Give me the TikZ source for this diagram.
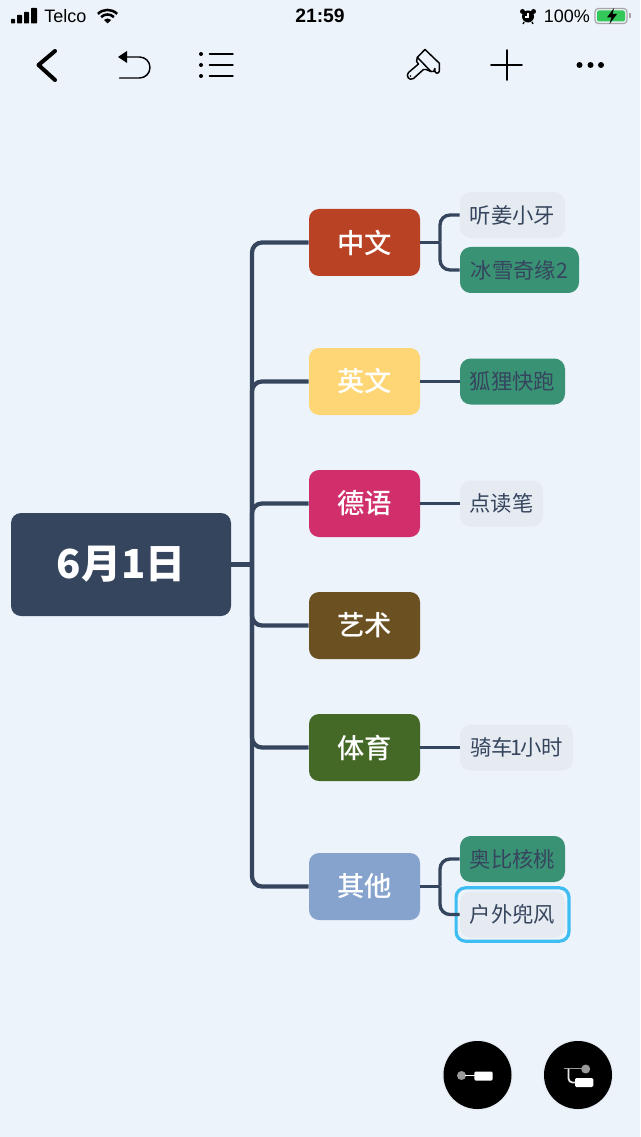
\documentclass[tikz,border=0pt]{standalone}
\usepackage{fontspec}
\setmainfont{Noto Sans CJK SC}
\newfontfamily\cjkmed{Noto Sans CJK SC Medium}
\newfontfamily\uifont{Liberation Sans}
\usetikzlibrary{calc}
\definecolor{bgc}{HTML}{ECF3FA}
\definecolor{navy}{HTML}{36455E}
\definecolor{subbg}{HTML}{E6EBF2}
\definecolor{subgreen}{HTML}{3A9275}
\definecolor{selblue}{HTML}{3DBDF2}
\definecolor{iconGray}{HTML}{9A9A9A}
\tikzset{
  x=0.75pt,y=-0.75pt,
  rootbox/.style={draw=none,fill=navy,rounded corners=7.5pt,minimum width=165pt,minimum height=77.25pt,inner sep=0pt,text=white,font=\fontsize{30pt}{32pt}\selectfont\bfseries},
  branchbox/.style={draw=none,rounded corners=7.5pt,minimum width=83.25pt,minimum height=50.25pt,inner sep=0pt,text=white,font=\cjkmed\fontsize{20.5pt}{22pt}\selectfont},
  leafbox/.style={draw=none,rounded corners=8pt,minimum height=34.5pt,inner sep=0pt,text=navy,font=\fontsize{16pt}{18pt}\selectfont},
  plain/.style={leafbox,fill=subbg},
  green/.style={leafbox,fill=subgreen},
  trunk/.style={draw=navy,line width=3.2pt,rounded corners=7.5pt},
  twig/.style={draw=navy,line width=2.5pt,rounded corners=7.5pt},
  thinicon/.style={draw=black,line width=1.1pt,line cap=round,line join=round},
  status/.style={inner sep=0pt,text=black,font=\uifont\fontsize{13.5pt}{15pt}\selectfont},
}
\begin{document}
\begin{tikzpicture}
\useasboundingbox (0,0) rectangle (640,1137);
\fill[bgc] (0,0) rectangle (640,1137);

\node[rootbox] (root) at (121,564.5) {6月1日};
\node[branchbox,fill={rgb,255:red,186;green,66;blue,36}] (b1) at (364.5,242.5) {中文};
\node[branchbox,fill={rgb,255:red,254;green,214;blue,117}] (b2) at (364.5,381.5) {英文};
\node[branchbox,fill={rgb,255:red,209;green,47;blue,107}] (b3) at (364.5,503.5) {德语};
\node[branchbox,fill={rgb,255:red,107;green,80;blue,33}] (b4) at (364.5,625.5) {艺术};
\node[branchbox,fill={rgb,255:red,68;green,104;blue,37}] (b5) at (364.5,747.5) {体育};
\node[branchbox,fill={rgb,255:red,133;green,163;blue,205}] (b6) at (364.5,886.5) {其他};

\node[plain,minimum width=78.75pt] (l1) at (512.5,215) {听姜小牙};
\node[green,minimum width=89.25pt] (l2) at (519.5,270) {冰雪奇缘2};
\node[green,minimum width=78.75pt] (l3) at (512.5,381.5) {狐狸快跑};
\node[plain,minimum width=62.25pt] (l4) at (501.5,503.5) {点读笔};
\node[plain,minimum width=84.75pt] (l5) at (516.5,747.5) {骑车\kern-1.7pt 1\kern-1.7pt 小时};
\node[green,minimum width=78.75pt] (l6) at (512.5,859) {奥比核桃};
\node[plain,minimum width=78.75pt] (l7) at (512.5,914.5) {户外兜风};
\node[draw=selblue,line width=2.4pt,rounded corners=7pt,fill=none,minimum width=84.6pt,minimum height=40pt,inner sep=0pt] (sel) at (512.5,914.5) {};

% connectors
\coordinate (tr) at (252,564.5);
\draw[trunk] (root.east) -- (tr);
\draw[trunk] (tr) |- (b1.west);
\draw[trunk] (tr) |- (b2.west);
\draw[trunk] (tr) |- (b3.west);
\draw[trunk] (tr) |- (b4.west);
\draw[trunk] (tr) |- (b5.west);
\draw[trunk] (tr) |- (b6.west);
\coordinate (t1) at (440,242.5);
\coordinate (t6) at (440,886.5);
\draw[twig] (b1.east) -- (t1);
\draw[twig] (t1) |- (l1.west);
\draw[twig] (t1) |- (l2.west);
\draw[twig] (b2.east) -- (l3.west);
\draw[twig] (b3.east) -- (l4.west);
\draw[twig] (b5.east) -- (l5.west);
\draw[twig] (b6.east) -- (t6);
\draw[twig] (t6) |- (l6.west);
\draw[twig] (t6) |- (l7.west);

% status bar
\fill[black,rounded corners=0.5pt] (11,19) rectangle (15,23.5);
\fill[black,rounded corners=0.5pt] (17,15) rectangle (22,23.5);
\fill[black,rounded corners=0.5pt] (24,12) rectangle (29,23.5);
\fill[black,rounded corners=0.5pt] (31,8) rectangle (37,23.5);
\node[status,anchor=west] (carrier) at (44,16) {Telco};
\begin{scope}[shift={(107.5,23.5)}]
  \fill[black] (0,0) -- (-3.6,-3.6) arc[start angle=225,end angle=315,radius=5.1] -- cycle;
  \draw[black,line width=1.9pt] (-6.4,-6.4) arc[start angle=225,end angle=315,radius=9.05];
  \draw[black,line width=1.9pt] (-9.6,-9.6) arc[start angle=225,end angle=315,radius=13.6];
\end{scope}
\node[status,anchor=center,font=\uifont\fontsize{14.5pt}{16pt}\selectfont\bfseries] (clock) at (320,16) {21:59};
% alarm
\fill[black] (528,16.5) circle[radius=6];
\draw[white,line width=0.8pt] (528,13) -- (528,17) -- (525,17);
\fill[black] (522.5,11.5) circle[radius=2.5] (533.5,11.5) circle[radius=2.5];
\draw[black,line width=1pt] (524,22) -- (523,24) (532,22) -- (533,24);
\node[status,anchor=west] (batt) at (543.5,16) {100\%};
% battery
\draw[gray!70,line width=0.9pt,rounded corners=2.5pt] (595,8.5) rectangle (627,23.5);
\fill[gray!70] (629,13.5) rectangle (630.5,18.5);
\fill[rounded corners=1.5pt,fill={rgb,255:red,52;green,199;blue,89}] (597,10.5) rectangle (625,21.5);
\fill[black] (614,8) -- (607,17.5) -- (611.5,17.5) -- (609.5,24) -- (617,14) -- (612.5,14) -- cycle;

% toolbar
\draw[line width=3pt,line cap=round,line join=round,black] (55,51) -- (38.5,65) -- (55,80);
% undo
\fill[black] (118,57) -- (127,51) -- (127,63) -- cycle;
\draw[thinicon] (127,57) -- (139.5,57) arc[start angle=270,end angle=450,radius=10.5] -- (119.5,78);
% list
\fill[black] (201,54) circle[radius=2] (201,65) circle[radius=2] (201,76) circle[radius=2];
\draw[thinicon] (209.5,54) -- (233,54) (209.5,65) -- (233,65) (209.5,76) -- (233,76);
% brush
\draw[thinicon] (417.3,57.3) -- (425,49.5) -- (439.3,63.2) -- (439.3,71) arc[start angle=0,end angle=180,radius=2.2] -- (434.9,68.5) -- (433.5,71.5) -- (431,71.5);
\draw[thinicon] (417.3,57.3) -- (431,71.5);
\draw[thinicon] (417.3,57.3) -- (416.6,61.5) -- (418.5,64) -- (408.5,72.5) .. controls (405.5,75.5) and (409,81.5) .. (413.5,78.5) -- (423.5,69.5) -- (426,69.5) -- (431,71.5);
\fill[black] (410.5,76) circle[radius=0.9];
% plus
\draw[draw=black,line width=1.2pt,line cap=round] (491,65) -- (522,65) (507,50) -- (507,80);
% more
\fill[black] (579.5,65) circle[radius=3] (590.5,65) circle[radius=3] (601,65) circle[radius=3];

% floating buttons
\foreach \cx in {477.5,578}{
  \fill[black,opacity=0.025] (\cx,1075) circle[radius=35.5];
  \fill[black] (\cx,1075) circle[radius=34];
}
\fill[iconGray] (461.5,1075.5) circle[radius=4.5];
\draw[white,line width=1.2pt] (465,1075.5) -- (474.5,1075.5);
\fill[white,rounded corners=1pt] (474.3,1071.5) rectangle (492.7,1080.5);
\draw[iconGray,line width=1.3pt] (563.5,1068.5) -- (585,1068.5);
\fill[iconGray] (585.7,1069) circle[radius=4.5];
\draw[white!80!gray,line width=1.3pt,rounded corners=3pt] (568.5,1068.5) -- (568.5,1082.5) -- (576,1082.5);
\fill[white,rounded corners=1pt] (575,1078) rectangle (593.3,1087);
\end{tikzpicture}
\end{document}
